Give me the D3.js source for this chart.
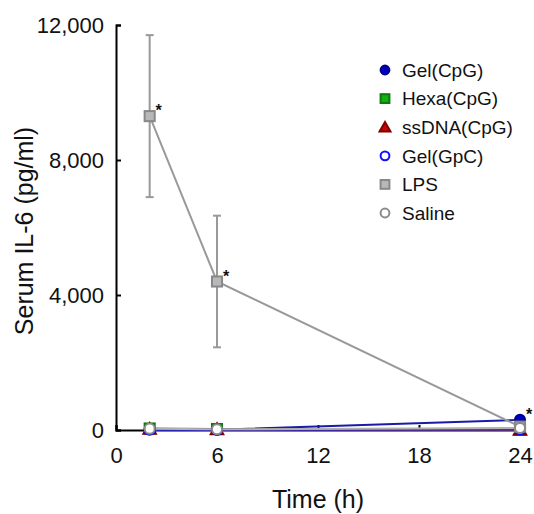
<!DOCTYPE html>
<html>
<head>
<meta charset="utf-8">
<script src="https://cdn.jsdelivr.net/npm/d3@7"></script>
<style>
  body { margin: 0; background: #fff; }
  text { font-family: "Liberation Sans", Arial, sans-serif; fill: #111; }
</style>
</head>
<body>
<div id="chart"></div>
<script>
const times = [2, 6, 24]
const seriesNames = ['Gel(CpG)', 'Hexa(CpG)', 'ssDNA(CpG)', 'Gel(GpC)', 'LPS', 'Saline']
const gelCpg = [20, 10, 300]
const hexaCpg = [45, 30, 10]
const ssdnaCpg = [30, 20, 5]
const gelGpc = [10, 5, 15]
const lps = [9300, 4400, 100]
const saline = [40, 20, 60]
const lpsErr = [2400, 1950, 40]
const yTicks = [0, 4000, 8000, 12000]
const xTicks = [0, 6, 12, 18, 24]
// significance marks: [series index, time index]
const stars = [[4, 0], [4, 1], [0, 2]]

const styles = [
  { shape: 'circle', fill: '#0000c0', stroke: '#00008a', line: '#1a1aa8' },
  { shape: 'square', fill: '#12b012', stroke: '#0a7a0a', line: '#2a9a2a' },
  { shape: 'triangle', fill: '#c80000', stroke: '#800000', line: '#a01010' },
  { shape: 'circle', fill: '#ffffff', stroke: '#1010ff', line: '#3030e0' },
  { shape: 'square', fill: '#b8b8b8', stroke: '#888888', line: '#999999' },
  { shape: 'circle', fill: '#ffffff', stroke: '#8a8a8a', line: '#b0b0b0' }
]

const values = [gelCpg, hexaCpg, ssdnaCpg, gelGpc, lps, saline]

const width = 534
const height = 514
const svg = d3.select('#chart').append('svg')
  .attr('width', width)
  .attr('height', height)

const x = d3.scaleLinear().domain([0, 24]).range([116, 520])
const y = d3.scaleLinear().domain([0, 12000]).range([430, 25])

// axes
const yAxis = svg.append('g')
  .attr('transform', `translate(${x(0)},0)`)
  .call(d3.axisLeft(y).tickValues(yTicks).tickFormat(d3.format(',')).tickSize(-5).tickPadding(12))
yAxis.select('.domain').attr('stroke', '#000').attr('stroke-width', 2)
yAxis.selectAll('.tick line').attr('stroke', '#000').attr('stroke-width', 2)
yAxis.selectAll('text').style('font-size', '22px').attr('fill', '#111')

const xAxis = svg.append('g')
  .attr('transform', `translate(0,${y(0)})`)
  .call(d3.axisBottom(x).tickValues(xTicks).tickSize(-5).tickPadding(17))
xAxis.select('.domain').attr('stroke', '#000').attr('stroke-width', 2)
xAxis.selectAll('.tick line').attr('stroke', '#000').attr('stroke-width', 2)
xAxis.selectAll('text').style('font-size', '22px').attr('fill', '#111')

svg.append('text')
  .attr('x', 318).attr('y', 508)
  .attr('text-anchor', 'middle')
  .style('font-size', '25px')
  .text('Time (h)')

svg.append('text')
  .attr('transform', 'translate(33,231) rotate(-90)')
  .attr('text-anchor', 'middle')
  .style('font-size', '25px')
  .text('Serum IL-6 (pg/ml)')

function marker (sel, shape, s) {
  if (shape === 'circle') {
    sel.append('circle').attr('r', s * 0.42)
  } else if (shape === 'square') {
    sel.append('rect').attr('x', -s * 0.42).attr('y', -s * 0.42)
      .attr('width', s * 0.84).attr('height', s * 0.84)
  } else {
    sel.append('path').attr('d', `M0,${-s * 0.5}L${s * 0.52},${s * 0.4}L${-s * 0.52},${s * 0.4}Z`)
  }
}

const line = d3.line().x((d, i) => x(times[i])).y(d => y(d))

// LPS error bars
const err = svg.append('g').attr('stroke', '#999').attr('stroke-width', 2)
lps.forEach((v, i) => {
  const cx = x(times[i])
  err.append('line').attr('x1', cx).attr('x2', cx).attr('y1', y(v + lpsErr[i])).attr('y2', y(v - lpsErr[i]))
  err.append('line').attr('x1', cx - 4).attr('x2', cx + 4).attr('y1', y(v + lpsErr[i])).attr('y2', y(v + lpsErr[i]))
  err.append('line').attr('x1', cx - 4).attr('x2', cx + 4).attr('y1', y(v - lpsErr[i])).attr('y2', y(v - lpsErr[i]))
})

values.forEach((vals, si) => {
  const st = styles[si]
  svg.append('path')
    .datum(vals)
    .attr('d', line)
    .attr('fill', 'none')
    .attr('stroke', st.line)
    .attr('stroke-width', 2)
})

values.forEach((vals, si) => {
  const st = styles[si]
  vals.forEach((v, i) => {
    const g = svg.append('g')
      .attr('transform', `translate(${x(times[i])},${y(v)})`)
      .attr('fill', st.fill)
      .attr('stroke', st.stroke)
      .attr('stroke-width', 2)
    marker(g, st.shape, 12)
  })
})

stars.forEach(([si, ti]) => {
  svg.append('text')
    .attr('x', x(times[ti]) + 9)
    .attr('y', y(values[si][ti]))
    .attr('text-anchor', 'middle')
    .style('font-size', '16px')
    .style('font-weight', 'bold')
    .text('*')
})

// legend
const legend = svg.append('g')
seriesNames.forEach((name, i) => {
  const st = styles[i]
  const ly = 70 + i * 28.6
  const g = legend.append('g')
    .attr('transform', `translate(385,${ly})`)
    .attr('fill', st.fill)
    .attr('stroke', st.stroke)
    .attr('stroke-width', 2)
  marker(g, st.shape, 10.5)
  legend.append('text')
    .attr('x', 402).attr('y', ly)
    .attr('dy', '0.36em')
    .style('font-size', '19px')
    .text(name)
})
</script>
</body>
</html>
